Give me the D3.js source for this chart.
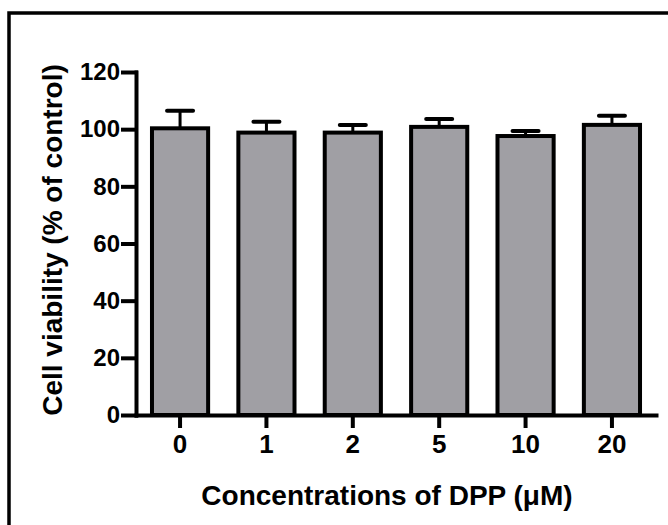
<!DOCTYPE html>
<html>
<head>
<meta charset="utf-8">
<script src="https://cdn.jsdelivr.net/npm/d3@7"></script>
<style>
  body { margin: 0; background: #fff; }
  svg { display: block; }
  text { font-family: "Liberation Sans", Arial, sans-serif; font-weight: bold; fill: #000; }
</style>
</head>
<body>
<svg id="graf" width="668" height="525"></svg>
<script>
// cell viability data
const categories = ["0", "1", "2", "5", "10", "20"];
const means = [100.3, 98.8, 98.8, 100.8, 97.6, 101.5];
const errors = [6.1, 3.8, 2.7, 2.8, 1.8, 3.2];
const yTicks = [0, 20, 40, 60, 80, 100, 120];

const svg = d3.select("#graf");

// frame (runs off right and bottom edge)
svg.append("rect")
    .attr("x", 9)
    .attr("y", 13)
    .attr("width", 700)
    .attr("height", 600)
    .attr("fill", "none")
    .attr("stroke", "#000")
    .attr("stroke-width", 3.5);

const xScale = d3.scaleBand()
                .domain(categories)
                .range([136, 656])
                .paddingInner(0.35)
                .paddingOuter(0.185);
const yScale = d3.scaleLinear()
                .domain([0, 120])
                .range([415, 72]);

const data = categories.map((c, i) => ({cat: c, mean: means[i], err: errors[i]}));

// bars
svg.selectAll("rect.bar")
    .data(data)
    .enter()
    .append("rect")
    .attr("class", "bar")
    .attr("x", d => xScale(d.cat))
    .attr("y", d => yScale(d.mean))
    .attr("width", xScale.bandwidth())
    .attr("height", d => yScale(0) - yScale(d.mean))
    .attr("fill", "#a09fa4")
    .attr("stroke", "#000")
    .attr("stroke-width", 4);

// error bars (upper only)
const cx = d => xScale(d.cat) + xScale.bandwidth() / 2;
svg.selectAll("line.stem")
    .data(data)
    .enter()
    .append("line")
    .attr("x1", cx)
    .attr("x2", cx)
    .attr("y1", d => yScale(d.mean))
    .attr("y2", d => yScale(d.mean + d.err))
    .attr("stroke", "#000")
    .attr("stroke-width", 3);
svg.selectAll("line.cap")
    .data(data)
    .enter()
    .append("line")
    .attr("x1", d => cx(d) - 13)
    .attr("x2", d => cx(d) + 13)
    .attr("y1", d => yScale(d.mean + d.err))
    .attr("y2", d => yScale(d.mean + d.err))
    .attr("stroke", "#000")
    .attr("stroke-width", 4)
    .attr("stroke-linecap", "round");

// axes
const xAxis = d3.axisBottom(xScale).tickSize(11).tickSizeOuter(0).tickPadding(9);
const gx = svg.append("g")
    .attr("transform", "translate(0, 415)")
    .call(xAxis);
gx.selectAll("text").style("font-size", "26px");

const yAxis = d3.axisLeft(yScale).tickValues(yTicks).tickSize(13).tickSizeOuter(0).tickPadding(3);
const gy = svg.append("g")
    .attr("transform", "translate(136, 0)")
    .call(yAxis);
gy.selectAll("text").style("font-size", "24px");

svg.selectAll(".domain, .tick line")
    .attr("stroke", "#000")
    .attr("stroke-width", 4)
    .attr("stroke-linecap", "square");
svg.selectAll(".tick text").attr("font-family", null);

// axis titles
svg.append("text")
    .attr("x", 387)
    .attr("y", 505)
    .attr("text-anchor", "middle")
    .style("font-size", "28px")
    .text("Concentrations of DPP (\u03bcM)");

svg.append("text")
    .attr("transform", "translate(62, 240) rotate(-90)")
    .attr("text-anchor", "middle")
    .style("font-size", "28px")
    .text("Cell viability (% of control)");
</script>
</body>
</html>
